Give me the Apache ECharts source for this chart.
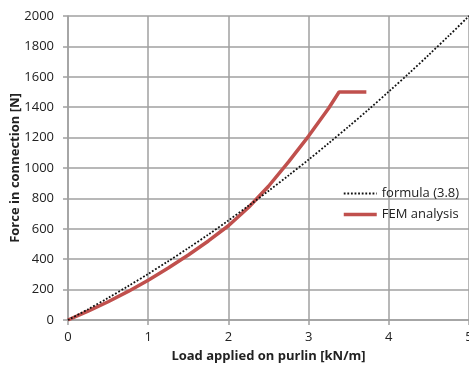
<!DOCTYPE html>
<html>
<head>
<meta charset="utf-8">
<script src="https://cdn.jsdelivr.net/npm/echarts@6/dist/echarts.min.js"></script>
<style>
    html, body { margin: 0; padding: 0; background: #fff; }
    #chart { width: 469px; height: 366px; }
</style>
</head>
<body>
<div id="chart"></div>
<script>
    // load on purlin [kN/m]
    var formulaLoad = [0, 0.25, 0.5, 0.75, 1, 1.25, 1.5, 1.75, 2, 2.25, 2.5, 2.75, 3, 3.25, 3.5, 3.75, 4, 4.25, 4.5, 4.75, 5];
    // force in connection [N], formula (3.8)
    var formulaForce = [0, 71, 145, 223, 303, 387, 473, 562, 655, 751, 849, 951, 1055, 1163, 1273, 1386, 1503, 1622, 1745, 1871, 2000];

    var femLoad = [0, 0.25, 0.5, 0.75, 1, 1.25, 1.5, 1.75, 2, 2.25, 2.5, 2.75, 3, 3.25, 3.38, 3.72];
    var femForce = [0, 58, 120, 188, 262, 342, 428, 520, 620, 740, 880, 1040, 1210, 1393, 1500, 1500];

    var names = ['formula (3.8)', 'FEM analysis'];

    function pairs(xs, ys) {
        var out = [];
        for (var i = 0; i < xs.length; i++) {
            out.push([xs[i], ys[i]]);
        }
        return out;
    }

    var gridLine = { lineStyle: { color: '#a0a0a0', width: 1.5 } };
    var font = 'Open Sans';

    var chart = echarts.init(document.getElementById('chart'));

    chart.setOption({
        backgroundColor: '#fff',
        animation: false,
        grid: { left: 68, right: 0, top: 16, bottom: 46, outerBoundsMode: 'none', containLabel: false },
        legend: {
            orient: 'vertical',
            left: 337,
            top: 182,
            itemWidth: 33,
            itemHeight: 14,
            itemGap: 8,
            itemStyle: { opacity: 0 },
            textStyle: { fontFamily: font, fontSize: 13, color: '#222' },
            data: [
                { name: names[0], lineStyle: { width: 1.8, type: 'dotted', color: '#111' } },
                { name: names[1], lineStyle: { width: 3.5, color: '#c0504d' } }
            ]
        },
        xAxis: {
            type: 'value',
            min: 0,
            max: 5,
            interval: 1,
            name: 'Load applied on purlin [kN/m]',
            nameLocation: 'middle',
            nameGap: 30,
            nameMoveOverlap: false,
            nameTextStyle: { fontFamily: font, fontSize: 13, fontWeight: 'bold', color: '#222' },
            axisLine: { show: true, lineStyle: { color: '#a0a0a0', width: 1.5 } },
            axisTick: { show: true, length: 5, lineStyle: { color: '#a0a0a0', width: 1.5 } },
            axisLabel: { margin: 11, fontFamily: font, fontSize: 13, color: '#222' },
            splitLine: gridLine
        },
        yAxis: {
            type: 'value',
            min: 0,
            max: 2000,
            interval: 200,
            name: 'Force in connection [N]',
            nameLocation: 'middle',
            nameGap: 46,
            nameMoveOverlap: false,
            nameTextStyle: { fontFamily: font, fontSize: 13, fontWeight: 'bold', color: '#222' },
            axisLine: { show: true, lineStyle: { color: '#a0a0a0', width: 1.5 } },
            axisTick: { show: true, length: 5, lineStyle: { color: '#a0a0a0', width: 1.5 } },
            axisLabel: {
                margin: 14, fontFamily: font, fontSize: 13, color: '#222',
                formatter: function (v) { return String(v); }
            },
            splitLine: gridLine
        },
        series: [{
            name: names[0],
            type: 'line',
            data: pairs(formulaLoad, formulaForce),
            symbol: 'none',
            smooth: 0.3,
            lineStyle: { color: '#111', width: 1.8, type: 'dotted' },
            itemStyle: { color: '#111' },
            z: 3
        }, {
            name: names[1],
            type: 'line',
            data: pairs(femLoad, femForce),
            symbol: 'none',
            lineStyle: { color: '#c0504d', width: 3.5 },
            itemStyle: { color: '#c0504d' },
            z: 2
        }]
    });
</script>
</body>
</html>
